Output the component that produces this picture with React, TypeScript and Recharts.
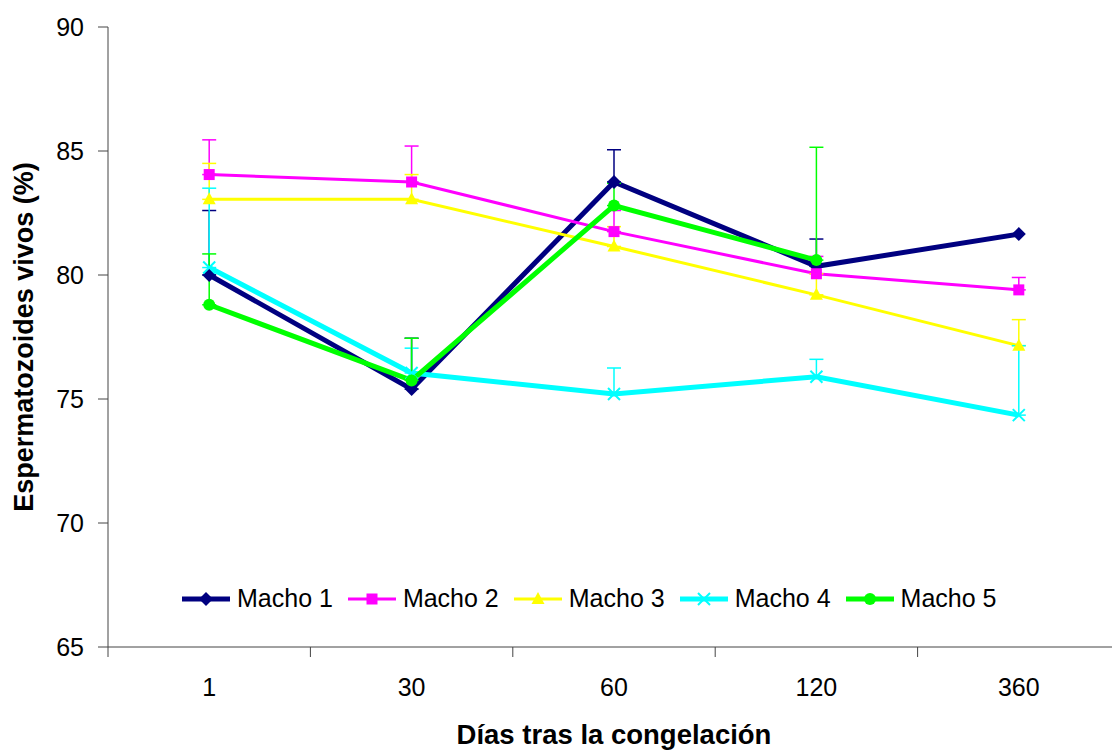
import React from 'react';
import { LineChart, Line, XAxis, YAxis, ErrorBar, Legend, Label } from 'recharts';

// days after freezing
const days = ['1', '30', '60', '120', '360'];

// live sperm (%) per male
const macho1 = [80.0, 75.4, 83.75, 80.35, 81.65];
const macho2 = [84.05, 83.75, 81.75, 80.05, 79.4];
const macho3 = [83.05, 83.05, 81.15, 79.2, 77.15];
const macho4 = [80.3, 76.05, 75.2, 75.9, 74.35];
const macho5 = [78.8, 75.75, 82.8, 80.6, null];

// upper error bars only
const macho1Err = [2.6, 2.05, 1.3, 1.1, null];
const macho2Err = [1.4, 1.45, 0.85, 0.7, 0.5];
const macho3Err = [1.45, 1.0, 0.8, 0.85, 1.05];
const macho4Err = [3.2, 1.0, 1.05, 0.7, 2.8];
const macho5Err = [2.05, 1.7, 0.9, 4.55, null];

const yTicks = [65, 70, 75, 80, 85, 90];
const xTicks = [0, 0.5, 1, 1.5, 2, 2.5, 3, 3.5, 4, 4.5, 5];

const series = [
  { key: 'm1', name: 'Macho 1', color: '#000080', width: 5, shape: 'diamond', values: macho1, errors: macho1Err },
  { key: 'm2', name: 'Macho 2', color: '#FF00FF', width: 3, shape: 'square', values: macho2, errors: macho2Err },
  { key: 'm3', name: 'Macho 3', color: '#FFFF00', width: 3, shape: 'triangle', values: macho3, errors: macho3Err },
  { key: 'm4', name: 'Macho 4', color: '#00FFFF', width: 5, shape: 'cross', values: macho4, errors: macho4Err },
  { key: 'm5', name: 'Macho 5', color: '#00FF00', width: 5, shape: 'circle', values: macho5, errors: macho5Err },
];

const data = days.map((d, i) => {
  const row: any = { pos: i + 0.5, day: d };
  series.forEach(s => {
    row[s.key] = s.values[i];
    row[s.key + 'Err'] = s.errors[i] == null ? null : [0, s.errors[i]];
  });
  return row;
});

function marker(shape: string, color: string, cx: number, cy: number) {
  switch (shape) {
    case 'diamond':
      return <polygon points={`${cx},${cy - 7} ${cx + 7},${cy} ${cx},${cy + 7} ${cx - 7},${cy}`} fill={color} />;
    case 'square':
      return <rect x={cx - 5.5} y={cy - 5.5} width={11} height={11} fill={color} />;
    case 'triangle':
      return <polygon points={`${cx},${cy - 7} ${cx + 6.5},${cy + 5} ${cx - 6.5},${cy + 5}`} fill={color} />;
    case 'cross':
      return (
        <path
          d={`M${cx - 6},${cy - 6}L${cx + 6},${cy + 6}M${cx - 6},${cy + 6}L${cx + 6},${cy - 6}`}
          stroke={color}
          strokeWidth={2}
        />
      );
    default:
      return <circle cx={cx} cy={cy} r={6} fill={color} />;
  }
}

function makeDot(shape: string, color: string) {
  return (props: any) => {
    const { cx, cy, index } = props;
    if (cx == null || cy == null || props.value == null) return <g key={index} />;
    return <g key={index}>{marker(shape, color, cx, cy)}</g>;
  };
}

function XTick(props: any) {
  const { x, y, payload } = props;
  const v = payload.value;
  if (Number.isInteger(v)) {
    return <line x1={x} x2={x} y1={y} y2={y + 10} stroke="#444" />;
  }
  return (
    <text x={x} y={y + 49} textAnchor="middle" fontSize={25} fill="#000">
      {days[Math.floor(v)]}
    </text>
  );
}

function LegendContent() {
  return (
    <div style={{ display: 'flex', alignItems: 'center', fontSize: 25, lineHeight: '29px', color: '#000' }}>
      {series.map(s => (
        <div key={s.key} style={{ display: 'flex', alignItems: 'center', marginRight: 14 }}>
          <svg width={50} height={20} style={{ marginRight: 6 }}>
            <line x1={1} x2={49} y1={10} y2={10} stroke={s.color} strokeWidth={s.width} />
            {marker(s.shape, s.color, 25, 10)}
          </svg>
          <span>{s.name}</span>
        </div>
      ))}
    </div>
  );
}

export default function App() {
  return (
    <div style={{ position: 'fixed', left: 0, top: 0, width: 1112, height: 751, overflow: 'hidden', background: '#fff' }}>
      <LineChart
        width={1122}
        height={751}
        data={data}
        margin={{ top: 27, right: 2, left: 0, bottom: 0 }}
        style={{ fontFamily: '"Liberation Sans", Arial, sans-serif' }}
      >
        <XAxis
          dataKey="pos"
          type="number"
          domain={[0, 5]}
          ticks={xTicks}
          interval={0}
          tickSize={0}
          tickMargin={0}
          tickLine={false}
          tick={<XTick />}
          height={104}
          axisLine={{ stroke: '#444' }}
        >
          <Label
            value="Días tras la congelación"
            position="insideBottom"
            offset={7}
            style={{ fontSize: 27.5, fontWeight: 'bold', fill: '#000' }}
          />
        </XAxis>
        <YAxis
          domain={[65, 90]}
          ticks={yTicks}
          interval={0}
          width={108}
          tickSize={10}
          tickMargin={14}
          tick={{ fontSize: 25, fill: '#000' }}
          axisLine={{ stroke: '#444' }}
          tickLine={{ stroke: '#444' }}
        >
          <Label
            value="Espermatozoides vivos (%)"
            angle={-90}
            position="insideLeft"
            offset={23}
            style={{ textAnchor: 'middle', fontSize: 27, fontWeight: 'bold', fill: '#000' }}
          />
        </YAxis>
        <Legend
          layout="horizontal"
          verticalAlign="middle"
          align="center"
          content={<LegendContent />}
          wrapperStyle={{ top: 584, left: 181, width: 'auto' }}
        />
        {series.map(s => (
          <Line
            key={s.key}
            dataKey={s.key}
            name={s.name}
            stroke={s.color}
            strokeWidth={s.width}
            dot={makeDot(s.shape, s.color)}
            activeDot={false}
            isAnimationActive={false}
          >
            <ErrorBar
              dataKey={s.key + 'Err'}
              direction="y"
              width={7}
              stroke={s.color}
              strokeWidth={1.5}
              isAnimationActive={false}
            />
          </Line>
        ))}
      </LineChart>
    </div>
  );
}
